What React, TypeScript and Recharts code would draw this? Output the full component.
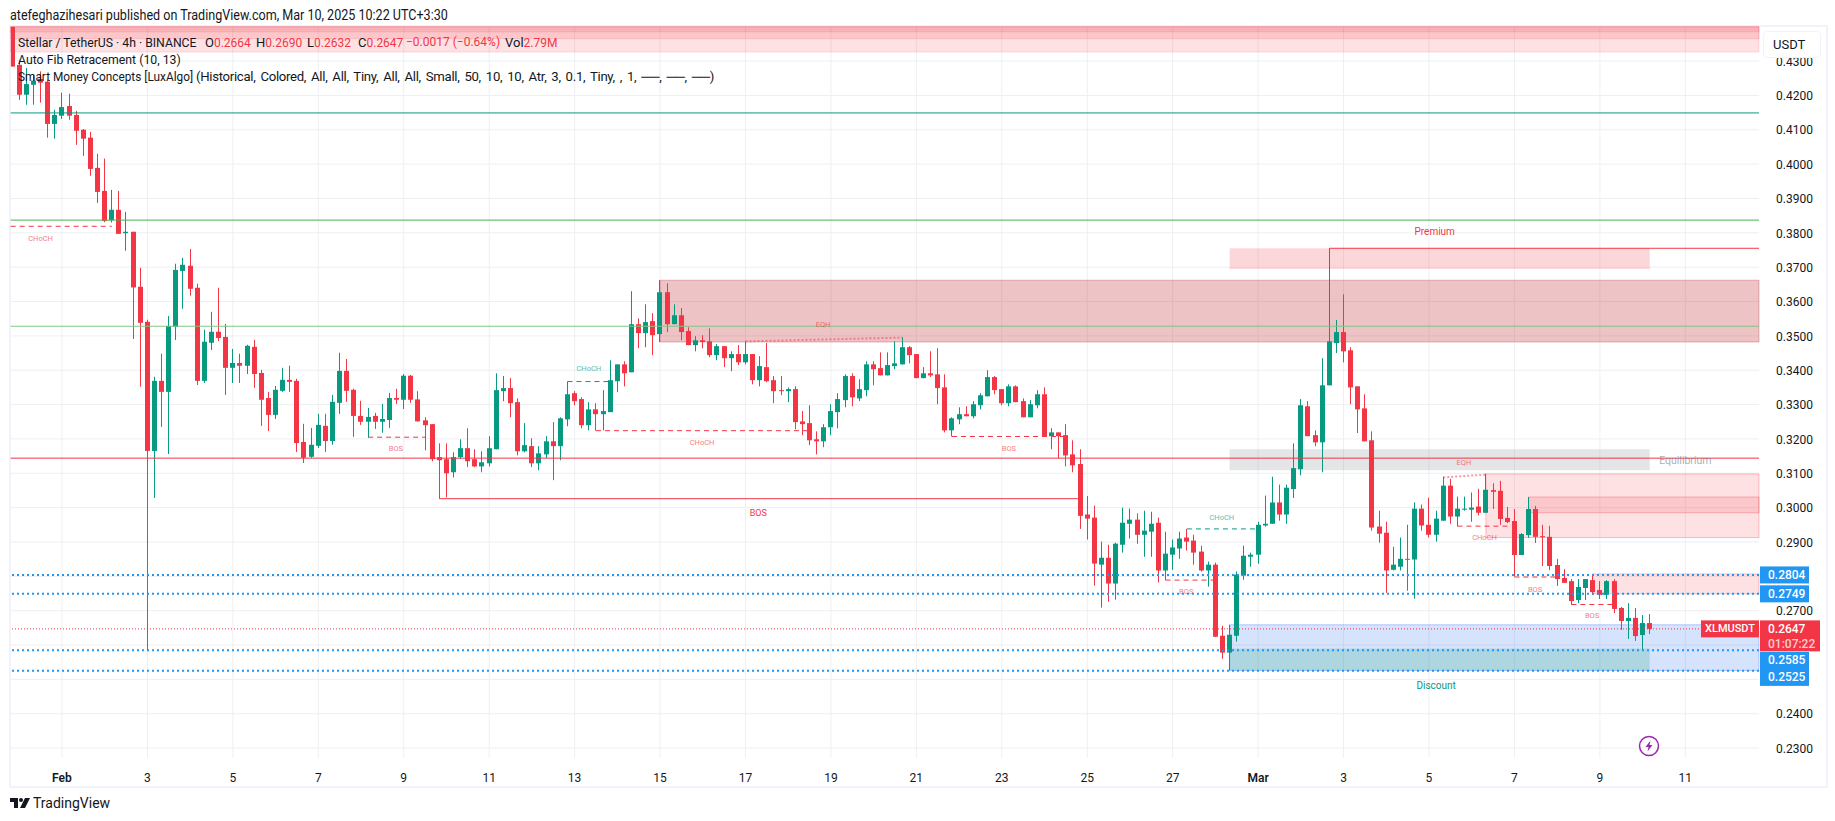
import { Bar, CartesianGrid, ComposedChart, ReferenceArea, ReferenceDot, ReferenceLine, XAxis, YAxis } from 'recharts';

const FONT = "Roboto, sans-serif";
const UP = '#089981';
const DOWN = '#f23645';
const BLUE = '#2196f3';
const PLOT_LEFT = 10.7;

// candle index -1 is the one cut off by the left edge of the pane
const FIRST_INDEX = -1;
const opens = [
  .4400,.4289,.4202,.4231,.4248,.4240,.4117,.4141,.4169,.4143,
  .4100,.4077,.3989,.3922,.3837,.3867,.3799,.3803,.3643,.3541,
  .3165,.3369,.3337,.3526,.3689,.3704,.3640,.3369,.3480,.3512,
  .3497,.3407,.3421,.3413,.3468,.3392,.3319,.3270,.3340,.3372,
  .3369,.3191,.3148,.3180,.3238,.3194,.3305,.3398,.3343,.3267,
  .3250,.3267,.3250,.3255,.3319,.3314,.3384,.3315,.3254,.3243,
  .3147,.3141,.3103,.3147,.3173,.3141,.3120,.3129,.3170,.3339,
  .3348,.3307,.3164,.3179,.3129,.3155,.3193,.3179,.3257,.3333,
  .3316,.3240,.3286,.3272,.3278,.3368,.3417,.3394,.3534,.3508,
  .3543,.3505,.3627,.3534,.3560,.3514,.3473,.3487,.3484,.3444,
  .3470,.3435,.3447,.3423,.3447,.3371,.3409,.3371,.3342,.3339,
  .3345,.3251,.3246,.3199,.3193,.3234,.3278,.3313,.3383,.3318,
  .3342,.3417,.3406,.3385,.3412,.3417,.3467,.3447,.3377,.3391,
  .3388,.3350,.3225,.3257,.3272,.3266,.3298,.3324,.3380,.3345,
  .3304,.3353,.3310,.3263,.3298,.3330,.3208,.3219,.3211,.3155,
  .3127,.2980,.2971,.2834,.2854,.2779,.2892,.2953,.2965,.2921,
  .2930,.2956,.2817,.2863,.2881,.2913,.2904,.2872,.2817,.2834,
  .2627,.2578,.2627,.2802,.2857,.2863,.2948,.2953,.3015,.2980,
  .3054,.3112,.3295,.3211,.3190,.3356,.3479,.3511,.3458,.3353,
  .3289,.3196,.2945,.2927,.2819,.2828,.2851,.2849,.2997,.2950,
  .2921,.2962,.3064,.2974,.2994,.2994,.3003,.2985,.3051,.3049,
  .2970,.2961,.2862,.2920,.2996,.2917,.2915,.2833,.2795,.2786,
  .2731,.2766,.2789,.2760,.2746,.2786,.2708,.2670,.2679,.2629,.2664,
];
const highs = [
  .4400,.4304,.4280,.4260,.4270,.4246,.4158,.4208,.4205,.4155,
  .4102,.4094,.4030,.4016,.3925,.3922,.3861,.3803,.3698,.3547,
  .3381,.3448,.3558,.3710,.3727,.3753,.3652,.3518,.3570,.3640,
  .3535,.3462,.3448,.3474,.3488,.3401,.3337,.3354,.3407,.3413,
  .3375,.3244,.3232,.3273,.3273,.3328,.3451,.3433,.3346,.3311,
  .3290,.3276,.3302,.3334,.3346,.3389,.3386,.3339,.3263,.3243,
  .3187,.3187,.3161,.3199,.3231,.3170,.3164,.3208,.3391,.3383,
  .3377,.3318,.3246,.3202,.3179,.3208,.3249,.3263,.3367,.3339,
  .3321,.3307,.3304,.3342,.3429,.3417,.3426,.3630,.3551,.3592,
  .3566,.3662,.3653,.3592,.3581,.3525,.3499,.3502,.3522,.3476,
  .3470,.3455,.3473,.3484,.3447,.3441,.3479,.3383,.3383,.3350,
  .3353,.3281,.3298,.3222,.3243,.3301,.3333,.3388,.3391,.3374,
  .3426,.3426,.3452,.3452,.3484,.3496,.3470,.3447,.3409,.3455,
  .3464,.3388,.3263,.3292,.3295,.3310,.3333,.3400,.3383,.3345,
  .3359,.3356,.3318,.3313,.3342,.3350,.3231,.3219,.3243,.3196,
  .3170,.3034,.3006,.2901,.2892,.2898,.3000,.2997,.2983,.2991,
  .2988,.2971,.2930,.2907,.2930,.2938,.2921,.2889,.2843,.2840,
  .2656,.2659,.2814,.2889,.2869,.2959,.3035,.3090,.3067,.3067,
  .3187,.3316,.3310,.3225,.3435,.3755,.3546,.3621,.3467,.3353,
  .3330,.3222,.2991,.2959,.2886,.2913,.2950,.3015,.3009,.3029,
  .2991,.3090,.3084,.3032,.3032,.3044,.3055,.3099,.3071,.3078,
  .3002,.2996,.2926,.3031,.3005,.2950,.2947,.2851,.2821,.2792,
  .2792,.2792,.2807,.2786,.2789,.2792,.2711,.2722,.2708,.2687,.2690,
];
const lows = [
  .4284,.4187,.4173,.4173,.4179,.4077,.4074,.4132,.4129,.4056,
  .4024,.3966,.3887,.3831,.3830,.3797,.3748,.3491,.3352,.2585,
  .3028,.3235,.3156,.3488,.3579,.3617,.3357,.3363,.3459,.3485,
  .3328,.3363,.3363,.3389,.3349,.3238,.3223,.3258,.3337,.3337,
  .3162,.3130,.3145,.3174,.3162,.3183,.3273,.3308,.3206,.3241,
  .3204,.3229,.3218,.3232,.3302,.3287,.3305,.3251,.3167,.3135,
  .3026,.3030,.3088,.3141,.3118,.3118,.3103,.3120,.3170,.3310,
  .3263,.3152,.3161,.3118,.3109,.3144,.3080,.3138,.3237,.3298,
  .3231,.3225,.3224,.3225,.3278,.3336,.3353,.3394,.3464,.3467,
  .3444,.3482,.3511,.3534,.3487,.3473,.3455,.3464,.3438,.3429,
  .3409,.3397,.3415,.3417,.3359,.3353,.3365,.3304,.3327,.3307,
  .3228,.3211,.3182,.3155,.3176,.3211,.3231,.3292,.3295,.3310,
  .3324,.3356,.3385,.3385,.3403,.3417,.3420,.3377,.3377,.3380,
  .3301,.3219,.3207,.3243,.3266,.3260,.3286,.3324,.3330,.3298,
  .3295,.3307,.3263,.3263,.3289,.3207,.3170,.3143,.3120,.3103,
  .2938,.2907,.2773,.2709,.2726,.2732,.2869,.2910,.2895,.2857,
  .2857,.2782,.2789,.2819,.2851,.2875,.2834,.2814,.2770,.2624,
  .2560,.2526,.2610,.2790,.2828,.2837,.2945,.2953,.2962,.2953,
  .3028,.3094,.3208,.3179,.3103,.3356,.3450,.3423,.3301,.3217,
  .3193,.2933,.2898,.2752,.2817,.2817,.2758,.2735,.2933,.2913,
  .2901,.2962,.2953,.2946,.2991,.2959,.2977,.2985,.2996,.2950,
  .2955,.2799,.2862,.2912,.2897,.2830,.2818,.2772,.2781,.2717,
  .2722,.2731,.2746,.2734,.2734,.2693,.2644,.2618,.2612,.2586,.2632,
];
const closes = [
  .4284,.4202,.4233,.4243,.4237,.4117,.4143,.4166,.4141,.4097,
  .4074,.3986,.3919,.3834,.3867,.3797,.3803,.3641,.3538,.3165,
  .3369,.3337,.3529,.3692,.3707,.3637,.3369,.3483,.3512,.3494,
  .3407,.3421,.3413,.3471,.3389,.3314,.3270,.3343,.3372,.3366,
  .3188,.3145,.3183,.3241,.3194,.3308,.3398,.3340,.3267,.3250,
  .3264,.3250,.3258,.3319,.3314,.3384,.3314,.3251,.3240,.3141,
  .3138,.3100,.3147,.3173,.3135,.3120,.3132,.3173,.3342,.3348,
  .3304,.3164,.3182,.3129,.3158,.3193,.3179,.3260,.3330,.3310,
  .3240,.3286,.3272,.3281,.3371,.3417,.3391,.3534,.3508,.3540,
  .3502,.3627,.3534,.3560,.3511,.3473,.3487,.3482,.3444,.3470,
  .3435,.3447,.3423,.3447,.3371,.3412,.3368,.3339,.3339,.3345,
  .3249,.3243,.3196,.3193,.3234,.3281,.3316,.3383,.3321,.3345,
  .3417,.3403,.3385,.3415,.3420,.3467,.3444,.3377,.3391,.3385,
  .3348,.3225,.3260,.3272,.3266,.3301,.3327,.3380,.3342,.3304,
  .3353,.3307,.3263,.3301,.3330,.3207,.3219,.3208,.3152,.3123,
  .2976,.2968,.2837,.2854,.2779,.2895,.2956,.2965,.2921,.2933,
  .2953,.2817,.2866,.2884,.2910,.2901,.2869,.2817,.2834,.2624,
  .2578,.2630,.2805,.2860,.2863,.2950,.2953,.3015,.2980,.3058,
  .3115,.3298,.3208,.3190,.3356,.3484,.3511,.3455,.3350,.3286,
  .3193,.2942,.2924,.2817,.2834,.2851,.2849,.2997,.2948,.2921,
  .2968,.3064,.2974,.2997,.2997,.3000,.2985,.3052,.3046,.2967,
  .2958,.2862,.2923,.2996,.2915,.2915,.2830,.2792,.2781,.2728,
  .2769,.2792,.2754,.2746,.2786,.2705,.2670,.2679,.2626,.2664,.2647,
];

const candles = closes.map((close, n) => ({
  index: n + FIRST_INDEX,
  open: opens[n],
  high: highs[n],
  low: lows[n],
  close,
  range: [lows[n], highs[n]],
}));

const gridPrices = [.23,.24,.25,.26,.27,.28,.29,.30,.31,.32,.33,.34,.35,.36,.37,.38,.39,.40,.41,.42,.43];
const axisPrices = [.23,.24,.27,.29,.30,.31,.32,.33,.34,.35,.36,.37,.38,.39,.40,.41,.42,.43];
const dayTicks = [6,18,30,42,54,66,78,90,102,114,126,138,150,162,174,186,198,210,222,234];
const dayLabels = ['Feb','3','5','7','9','11','13','15','17','19','21','23','25','27','Mar','3','5','7','9','11'];

// auto fib levels
const fibPrices = [.4149,.3837,.3528,.3144];
const fibColors = ['#089981','#4caf50','#81c784','#f23645'];

// [from, to, price]
const bearDashes = [[-1.2,13,.3819],[49,57,.3205],[81,111,.3224],[131,147,.3207],[161,168,.2789],[202,209,.2946],[210,216,.2798],[218,224,.2718]];
const bullDashes = [[77,83,.3367],[164,174,.2938]];
const solidBreaks = [[59,149,.3026],[184,244.35,.3755]];
// [from, to, priceFrom, priceTo]
const equalHighs = [[102,124,.3484,.3495],[200,206,.3088,.3096]];

// [index, price, text]
const bearTags = [[3,.3784,'CHoCH'],[52.9,.3174,'BOS'],[95.9,.3191,'CHoCH'],[112.9,.3534,'EQH'],[139,.3173,'BOS'],[202.9,.3131,'EQH'],[163.9,.2757,'BOS'],[205.8,.2913,'CHoCH'],[212.9,.2761,'BOS'],[220.9,.2686,'BOS']];
const bullTags = [[80,.3406,'CHoCH'],[168.9,.2972,'CHoCH']];

// [from, to (none = right edge), bottom, top]
const topBands = [[.4326,.44],[.4365,.44],[.4385,.44]];
const bearBlocks = [[206,null,.2913,.3098],[212,null,.2985,.3031],[221,null,.2749,.2807]];
const mainBlock = [90,null,.3482,.3662];
const premiumZone = [170,229,.3695,.3755];
const equilibriumZone = [170,229,.3109,.3170];
const discountZone = [170,229,.2526,.2590];
const lastSwingBox = [170,null,.2526,.2659];

const levelPrices = [.2804,.2749,.2585,.2525];
const levelTagShift = [0,0,10.3,6.6];
const lastPrice = .2647;

const ohlcLabels = ['O','H','L','C'];
const ohlcValues = ['0.2664','0.2690','0.2632','0.2647'];

function Candle(props: any) {
  const { x, y, width, height, payload } = props;
  const { open, high, low, close } = payload;
  const perUnit = height / (high - low);
  const color = close >= open ? UP : DOWN;
  const yTop = y + (high - Math.max(open, close)) * perUnit;
  const yBottom = y + (high - Math.min(open, close)) * perUnit;
  const center = x + width / 2;
  const left = Math.round(center - 2.5);
  const clipped = Math.max(left, PLOT_LEFT);
  return (
    <g>
      <rect x={left + 2} y={y} width={1} height={height} fill={color} />
      <rect x={clipped} y={yTop} width={left + 5 - clipped} height={Math.max(yBottom - yTop, 1)} fill={color} />
    </g>
  );
}

function DayTick({ x, y, payload, index }: any) {
  const label = dayLabels[index];
  const bold = label === 'Feb' || label === 'Mar';
  return (
    <text x={x} y={y + 12} textAnchor="middle" dominantBaseline="central" fontFamily={FONT} fontSize={12} fontWeight={bold ? 600 : 400} fill="#131722">
      {label ?? payload.value}
    </text>
  );
}

function PriceTick({ x, y, payload }: any) {
  return (
    <text x={x + 9} y={y + 0.7} dominantBaseline="central" fontFamily={FONT} fontSize={12} fill="#131722">
      {payload.value.toFixed(4)}
    </text>
  );
}

function BlueTag({ viewBox, value, shift }: any) {
  const right = viewBox.x + viewBox.width;
  const y = viewBox.y + shift;
  return (
    <g>
      <rect x={right + 1} y={y - 8.5} width={49} height={17} fill={BLUE} />
      <text x={right + 9} y={y} dominantBaseline="central" fontFamily={FONT} fontSize={12} fontWeight={500} fill="#fff">{value}</text>
    </g>
  );
}

function LastTag({ viewBox }: any) {
  const right = viewBox.x + viewBox.width;
  const y = viewBox.y;
  return (
    <g fontFamily={FONT} fontSize={12} fontWeight={500}>
      <rect x={right - 58} y={y - 8.5} width={58} height={17} fill={DOWN} />
      <text x={right - 29} y={y} textAnchor="middle" dominantBaseline="central" fontSize={11} fill="#fff">XLMUSDT</text>
      <rect x={right + 1} y={y - 8.5} width={60} height={31} fill={DOWN} />
      <text x={right + 9} y={y} dominantBaseline="central" fill="#fff">{lastPrice.toFixed(4)}</text>
      <text x={right + 9} y={y + 15} dominantBaseline="central" fill="#fff" fillOpacity={0.75}>01:07:22</text>
    </g>
  );
}

function zone(key: string, z: any[], fill: string, opacity: number, stroke?: string) {
  return (
    <ReferenceArea
      key={key}
      x1={z[0]}
      x2={z[1] ?? undefined}
      y1={z[2]}
      y2={z[3]}
      fill={fill}
      fillOpacity={opacity}
      stroke={stroke ?? 'none'}
      strokeOpacity={0.3}
    />
  );
}

function tag(key: string, t: any[], fill: string, size: number, opacity: number) {
  return (
    <ReferenceDot
      key={key}
      x={t[0]}
      y={t[1]}
      r={0}
      stroke="none"
      label={{ value: t[2], position: 'center', fill, fontSize: size, fontFamily: FONT, opacity }}
    />
  );
}

// letter-spacing snaps glyph advances here, so the lines are fitted with a horizontal scale
const line = (left: number, top: number, fit = 1) => ({
  position: 'absolute' as const,
  left,
  top,
  fontSize: 13,
  lineHeight: '17px',
  whiteSpace: 'nowrap' as const,
  transform: `scaleX(${fit})`,
  transformOrigin: 'left center',
});

export default function App() {
  return (
    <div style={{ position: 'absolute', left: 0, top: 0, width: 1835, height: 821, background: '#fff', fontFamily: FONT, color: '#131722', overflow: 'hidden' }}>
      <div style={{ position: 'absolute', left: 9, top: 25, width: 1815, height: 759, border: '2px solid #f0f3fa' }} />
      <div style={{ position: 'absolute', left: 0, top: 0 }}>
        <ComposedChart
          width={1835}
          height={821}
          data={candles}
          margin={{ top: 26.7, right: 0, bottom: 33.3, left: PLOT_LEFT }}
        >
          <CartesianGrid stroke="#eeeff2" horizontalValues={gridPrices} verticalValues={dayTicks} />
          <XAxis
            type="number"
            dataKey="index"
            domain={[-1.2, 244.35]}
            allowDataOverflow
            ticks={dayTicks}
            interval={0}
            axisLine={false}
            tickLine={false}
            height={30}
            tick={<DayTick />}
          />
          <YAxis
            orientation="right"
            type="number"
            domain={[.2272, .44]}
            allowDataOverflow
            ticks={axisPrices}
            interval={0}
            axisLine={false}
            tickLine={false}
            width={76}
            tick={<PriceTick />}
          />

          {topBands.map((b, i) => (
            <ReferenceArea key={`top-${i}`} y1={b[0]} y2={b[1]} fill={DOWN} fillOpacity={0.15} stroke={DOWN} strokeOpacity={0.15} />
          ))}
          {zone('main', mainBlock, '#c32630', 0.28, '#b22833')}
          {bearBlocks.map((b, i) => zone(`bear-${i}`, b, DOWN, 0.15, DOWN))}
          {zone('premium', premiumZone, DOWN, 0.2)}
          {zone('equilibrium', equilibriumZone, '#787b86', 0.2)}
          {zone('swing', lastSwingBox, '#2d73f5', 0.2, '#2962ff')}
          {zone('discount', discountZone, '#009d62', 0.18)}

          {fibPrices.map((p, i) => (
            <ReferenceLine key={`fib-${i}`} y={p} stroke={fibColors[i]} strokeWidth={1} />
          ))}
          <ReferenceLine y={lastPrice} stroke={DOWN} strokeDasharray="1 2" label={<LastTag />} />
          {levelPrices.map((p, i) => (
            <ReferenceLine
              key={p}
              y={p}
              stroke={BLUE}
              strokeWidth={2}
              strokeDasharray="2 3"
              label={<BlueTag value={p.toFixed(4)} shift={levelTagShift[i]} />}
            />
          ))}

          {bearDashes.map((l, i) => (
            <ReferenceLine key={`bd-${i}`} segment={[{ x: l[0], y: l[2] }, { x: l[1], y: l[2] }]} stroke={DOWN} strokeDasharray="5 4" />
          ))}
          {bullDashes.map((l, i) => (
            <ReferenceLine key={`gd-${i}`} segment={[{ x: l[0], y: l[2] }, { x: l[1], y: l[2] }]} stroke={UP} strokeDasharray="5 4" />
          ))}
          {solidBreaks.map((l, i) => (
            <ReferenceLine key={`sb-${i}`} segment={[{ x: l[0], y: l[2] }, { x: l[1], y: l[2] }]} stroke={DOWN} />
          ))}
          {equalHighs.map((l, i) => (
            <ReferenceLine key={`eq-${i}`} segment={[{ x: l[0], y: l[2] }, { x: l[1], y: l[3] }]} stroke={DOWN} strokeOpacity={0.5} strokeWidth={2} strokeDasharray="2 2" />
          ))}

          <Bar dataKey="range" barSize={5} shape={<Candle />} isAnimationActive={false} />

          {bearTags.map((t, i) => tag(`bt-${i}`, t, DOWN, 7.5, 0.65))}
          {bullTags.map((t, i) => tag(`gt-${i}`, t, UP, 7.5, 0.65))}
          {tag('bos', [103.8, .2985, 'BOS'], DOWN, 9, 1)}
          {tag('prem', [198.8, .3803, 'Premium'], DOWN, 10, 1)}
          {tag('disc', [199, .2481, 'Discount'], UP, 10, 1)}
          {tag('eqm', [234, .3139, 'Equilibrium'], '#787b86', 10.5, 0.6)}
        </ComposedChart>
      </div>

      <div style={{ ...line(10, 7, 0.897), fontSize: 14 }}>atefeghazihesari published on TradingView.com, Mar 10, 2025 10:22 UTC+3:30</div>

      <div style={line(18, 34, 0.94)}>Stellar / TetherUS · 4h · BINANCE</div>
      {ohlcLabels.map((label, i) => (
        <div key={label} style={line(205 + i * 51, 34)}>
          {label}<span style={{ color: DOWN, fontSize: 12 }}>{ohlcValues[i]}</span>
        </div>
      ))}
      <div style={{ ...line(406, 34), fontSize: 12, color: DOWN }}>−0.0017 (−0.64%)</div>
      <div style={line(505, 34)}>
        Vol<span style={{ color: DOWN, fontSize: 12 }}>2.79M</span>
      </div>
      <div style={line(18, 51, 0.945)}>Auto Fib Retracement (10, 13)</div>
      <div style={line(18, 68, 0.91)}>Smart Money Concepts [LuxAlgo]</div>
      <div style={{ ...line(196, 68, 1.014), letterSpacing: -0.3, wordSpacing: 1.9 }}>
        (Historical, Colored, All, All, Tiny, All, All, Small, 50, 10, 10, Atr, 3, 0.1, Tiny, , 1, ──, ──, ──)
      </div>

      <div style={{ position: 'absolute', left: 1763, top: 31, width: 56, height: 25, border: '1px solid #f0f3fa', borderRadius: 4, background: '#fff', fontSize: 13, lineHeight: '25px', textIndent: 9 }}>
        USDT
      </div>

      <svg style={{ position: 'absolute', left: 1638, top: 735 }} width={22} height={22}>
        <circle cx={11} cy={11} r={9.5} fill="none" stroke="#9c27b0" strokeWidth={1.5} />
        <path d="M12.5 5.5 L7.5 12 H10.5 L9.5 16.5 L14.5 10 H11.5 Z" fill="#9c27b0" />
      </svg>

      <svg style={{ position: 'absolute', left: 10, top: 798 }} width={20} height={11}>
        <path d="M0 0 H8 V10 H4 V4 H0 Z M15 0 H20 L15 10 H10 Z" fill="#131722" />
        <circle cx={11} cy={2} r={2} fill="#131722" />
      </svg>
      <div style={{ position: 'absolute', left: 33, top: 794, fontSize: 14, lineHeight: '18px' }}>TradingView</div>
    </div>
  );
}
